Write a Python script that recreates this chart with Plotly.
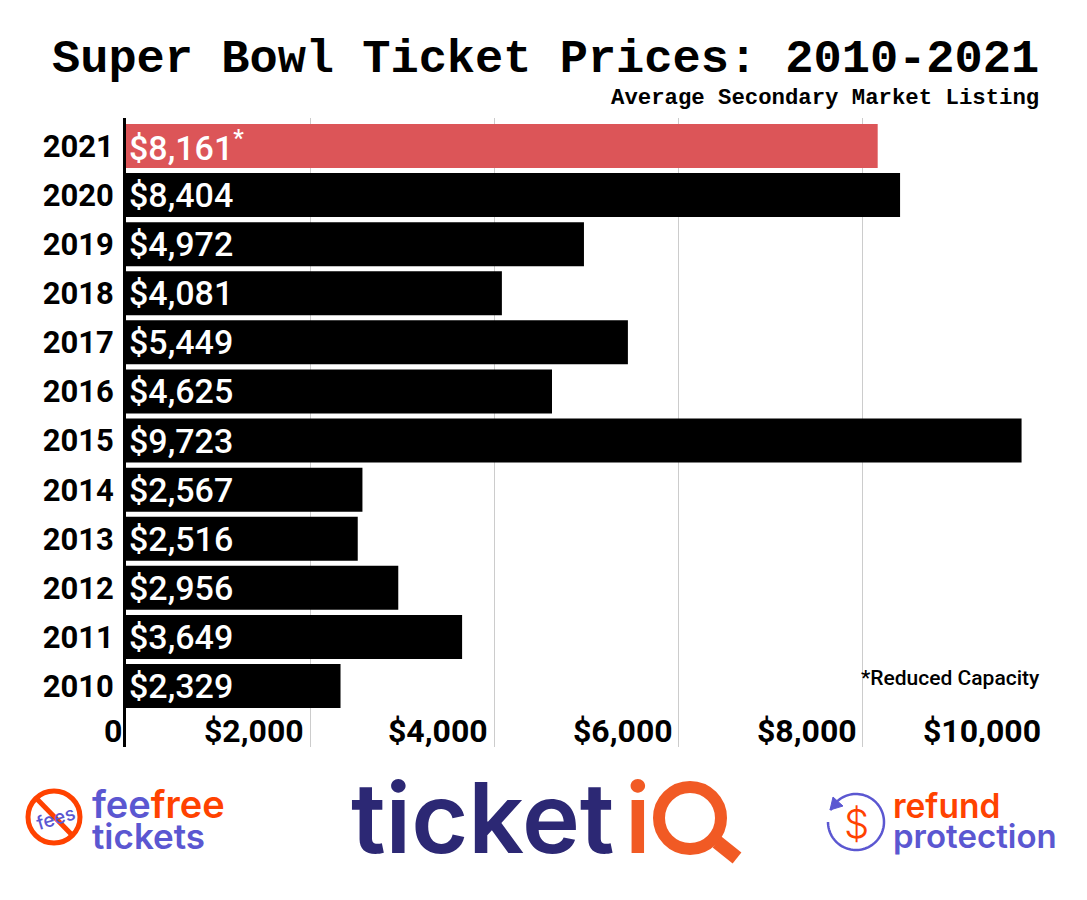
import numpy as np
import plotly.graph_objects as go

# page body has an 8px margin, so the figure fills what is left of the window
PAGE_MARGIN = 8
W, H = 1087 - PAGE_MARGIN, 900 - PAGE_MARGIN

years = ["2021", "2020", "2019", "2018", "2017", "2016", "2015", "2014", "2013", "2012", "2011", "2010"]
prices = [8161, 8404, 4972, 4081, 5449, 4625, 9723, 2567, 2516, 2956, 3649, 2329]
notes = ["*", "", "", "", "", "", "", "", "", "", "", ""]
bar_colors = ["#DC5558"] + ["#000000"] * 11
x_ticks = [0, 2000, 4000, 6000, 8000, 10000]
x_tick_labels = ["0", "$2,000", "$4,000", "$6,000", "$8,000", "$10,000"]

PURPLE = "#5B57D1"
ORANGE = "#FF4200"
NAVY = "#2C2874"
QORANGE = "#F15A24"


# pixel helpers: margins are zero so paper coords cover the whole figure
def px(x):
    return (x - PAGE_MARGIN) / W


def py(y):
    return 1 - (y - PAGE_MARGIN) / H


def label(x, y, text, size, color="#000000", family="Roboto", anchor="left", angle=0, weight="normal"):
    return dict(x=px(x), y=py(y), xref="paper", yref="paper", text=text, showarrow=False,
                xanchor=anchor, yanchor="middle", textangle=angle,
                font=dict(family=family, size=size, color=color, weight=weight))


def circle(cx, cy, r, color, width):
    return dict(type="circle", xref="paper", yref="paper", x0=px(cx - r), x1=px(cx + r),
                y0=py(cy + r), y1=py(cy - r), line=dict(color=color, width=width))


def seg(x0, y0, x1, y1, color, width):
    return dict(type="line", xref="paper", yref="paper", x0=px(x0), y0=py(y0), x1=px(x1), y1=py(y1),
                line=dict(color=color, width=width))


fig = go.Figure(go.Bar(
    y=years,
    x=prices,
    orientation="h",
    marker=dict(color=bar_colors, line=dict(width=0)),
    text=[f"${p:,}" + (f"<sup>{n}</sup>" if n else "") for p, n in zip(prices, notes)],
    textposition="inside",
    insidetextanchor="start",
    textangle=0,
    constraintext="none",
    insidetextfont=dict(family="Roboto", size=34, color="#FFFFFF", weight=500),
    hoverinfo="skip",
))

annotations = [
    label(1041, 59, "Super Bowl Ticket Prices: 2010-2021", 47, family="Liberation Mono", anchor="right", weight="bold"),
    label(1041, 98, "Average Secondary Market Listing", 22.3, family="Liberation Mono", anchor="right", weight="bold"),
    label(1042, 678, "*Reduced Capacity", 21, anchor="right", weight=500),
    # fee free logo
    label(55, 818, "fees", 19, PURPLE, "Inter", "center", -17, 500),
    label(90, 804, "fee<span style='color:%s'>free</span>" % ORANGE, 38, PURPLE, "Inter", weight=600),
    label(90, 836, "tickets", 35, PURPLE, "Inter", weight=600),
    # main logo
    label(349, 817, "ticket", 98, NAVY, "Inter", weight=600),
    label(638, 817, "i", 98, QORANGE, "Inter", "center", weight=600),
    # refund logo
    label(856, 823, "$", 40, ORANGE, "Inter", "center", weight=300),
    label(891, 806, "refund", 33.5, ORANGE, "Inter", weight=600),
    label(891, 836, "protection", 33, PURPLE, "Inter", weight=600),
]

for v, t in zip(x_ticks, x_tick_labels):
    annotations.append(dict(x=v, y=py(731), xref="x", yref="paper", text=t, showarrow=False,
                            xanchor="right", yanchor="middle", xshift=-4 if v else -2,
                            font=dict(family="Roboto", size=32, color="#000000", weight="bold")))

# refund arrow ring, open at the upper left
ring = [(856 + 28 * np.cos(a), 822 - 28 * np.sin(a)) for a in np.radians(np.linspace(155, -180, 90))]
ring_path = "M " + " L ".join(f"{px(x):.5f},{py(y):.5f}" for x, y in ring)
arrow = [(830, 810), (833, 797), (843, 806)]
arrow_path = "M " + " L ".join(f"{px(x):.5f},{py(y):.5f}" for x, y in arrow) + " Z"

shapes = [
    circle(54, 817, 26, ORANGE, 5),
    seg(36, 798, 73, 836, ORANGE, 5),
    circle(690, 818, 31, QORANGE, 12),
    seg(717, 842, 737, 858, QORANGE, 14),
    dict(type="path", xref="paper", yref="paper", path=ring_path, line=dict(color=PURPLE, width=2.5)),
    dict(type="path", xref="paper", yref="paper", path=arrow_path, fillcolor=PURPLE, line=dict(color=PURPLE, width=1)),
]

fig.update_layout(
    width=W,
    height=H,
    margin=dict(l=0, r=0, t=0, b=0),
    paper_bgcolor="#FFFFFF",
    plot_bgcolor="#FFFFFF",
    showlegend=False,
    bargap=0.104,
    annotations=annotations,
    shapes=shapes,
    xaxis=dict(domain=[px(126), px(1048)], range=[0, 10010], tickvals=x_ticks, showticklabels=False,
               showgrid=True, gridcolor="#CCCCCC", gridwidth=1, zeroline=False, ticks="", showline=False),
    yaxis=dict(domain=[py(747), py(118)], type="category", categoryorder="array", categoryarray=years[::-1],
               range=[-1.242, 11.57], showgrid=False, zeroline=False, showline=True, linecolor="#000000",
               linewidth=3, ticks="outside", ticklen=3, tickcolor="rgba(0,0,0,0)",
               tickfont=dict(family="Roboto", size=31, color="#000000", weight="bold")),
)

fig.write_html("out.html")
